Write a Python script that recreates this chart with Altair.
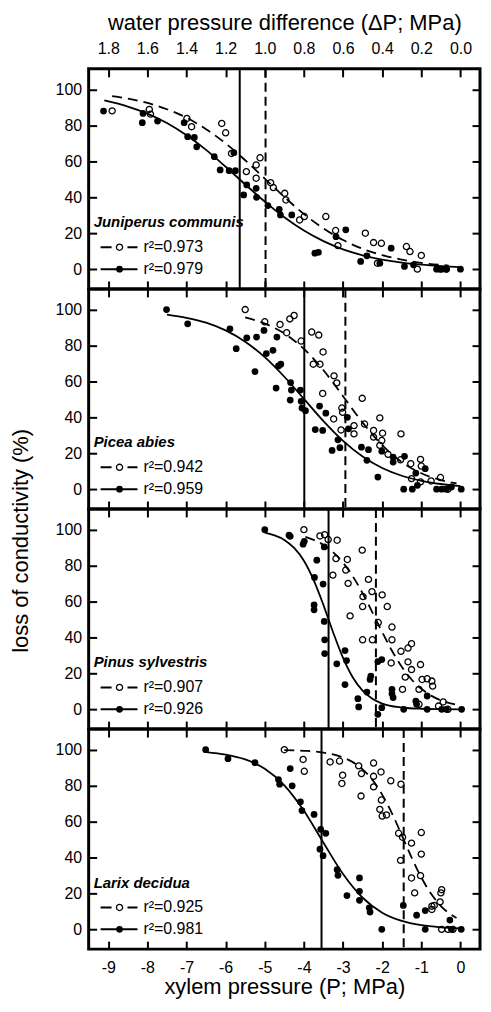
import altair as alt
import pandas as pd

FONT = "Liberation Sans"

species = ["Juniperus communis", "Picea abies", "Pinus sylvestris", "Larix decidua"]
r2_open = [0.973, 0.942, 0.907, 0.925]
r2_filled = [0.979, 0.959, 0.926, 0.981]
p50_open = [-4.98, -2.94, -2.16, -1.45]
p50_filled = [-5.64, -3.99, -3.37, -3.55]

x_ticks = [-9, -8, -7, -6, -5, -4, -3, -2, -1, 0]
x_tick_labels = ["-9", "-8", "-7", "-6", "-5", "-4", "-3", "-2", "-1", "0"]
dp_tick_labels = ["1.8", "1.6", "1.4", "1.2", "1.0", "0.8", "0.6", "0.4", "0.2", "0.0"]
y_ticks = [0, 20, 40, 60, 80, 100]

# ---- Juniperus communis
juni_filled_x = [-9.12, -8.13, -8.11, -7.74, -7.06, -6.97, -6.80, -6.74, -6.29, -6.14, -5.91, -5.75, -5.79, -5.54, -5.46,
                 -5.22, -5.21, -4.92, -4.63, -4.60, -4.31, -3.72, -3.63, -3.18, -2.93, -2.55, -2.39, -2.06, -1.77, -1.43,
                 -1.20, -0.61, -0.48, -0.36, 0.0]
juni_filled_y = [88, 81.5, 86.7, 82.4, 81.5, 73.7, 73.3, 68.1, 62.6, 55.2, 54.8, 54.8, 64.8, 41.3, 46.9,
                 45, 40, 35.4, 33.3, 30.2, 30.2, 8.9, 9.3, 18.1, 21.9, 4.3, 7.4, 3.3, 11.7, 1.5,
                 2.4, 0, 0, 0, 0]
juni_open_x = [-8.90, -7.95, -7.92, -6.99, -6.87, -6.10, -6.00, -5.85, -5.47, -5.22, -5.22, -5.12, -4.85, -4.78, -4.49,
               -4.46, -4.11, -3.99, -3.44, -3.19, -3.13, -2.43, -2.22, -2.12, -2.02, -1.38, -1.29, -1.10, -1.00, -0.52,
               -0.36]
juni_open_y = [88.1, 88.9, 86.3, 83.9, 79.3, 81.1, 75.9, 64.4, 54.3, 58, 50.6, 62, 48.1, 45.4, 42.2,
               38.5, 27.4, 29.3, 29.3, 21.5, 13.1, 20, 14.8, 3.3, 14.4, 12.6, 9.8, 0, 7.6, 0,
               0]
juni_fit_filled_x = [-9.1, -8.5, -8, -7.5, -7, -6.5, -6, -5.5, -5, -4.5, -4, -3.5, -3, -2.5, -2, -1.5, -1, -0.5, 0]
juni_fit_filled_y = [93.9, 90.5, 86.6, 81.3, 74.5, 66.4, 57.0, 47.2, 37.6, 28.9, 21.5, 15.6, 11.0, 7.7, 5.3, 3.6, 2.5, 1.7, 1.1]
juni_fit_open_x = [-8.9, -8.5, -8, -7.5, -7, -6.5, -6, -5.5, -5, -4.5, -4, -3.5, -3, -2.5, -2, -1.5, -1, -0.3]
juni_fit_open_y = [96.3, 94.9, 92.5, 89.0, 84.3, 77.9, 70.0, 60.6, 50.4, 40.2, 30.7, 22.7, 16.2, 11.3, 7.8, 5.3, 3.5, 2.0]

# ---- Picea abies
picea_filled_x = [-7.51, -6.97, -5.89, -5.73, -5.46, -5.25, -5.21, -5.02, -4.96, -4.79, -4.71, -4.69, -4.65, -4.59, -4.34,
                  -4.32, -4.35, -4.09, -4.07, -4.05, -3.96, -3.71, -3.60, -3.52, -3.44, -3.28, -3.13, -3.08, -2.89, -2.86,
                  -2.53, -2.39, -2.35, -2.11, -2.01, -1.72, -1.72, -1.45, -1.43, -1.23, -1.14, -1.10, -0.90, -0.61, -0.48,
                  -0.36, -0.23, 0.02]
picea_filled_y = [100, 92.1, 89.3, 78.2, 84.3, 65.5, 84.7, 88.4, 75.5, 77.3, 56.3, 84.7, 68.6, 69.6, 59.4,
                  55.2, 49.6, 55.2, 48.9, 45.2, 43.7, 33.2, 46.3, 32.7, 42.3, 21.6, 27.5, 23.1, 40, 33.6,
                  23.4, 16.1, 22, 6.8, 21.2, 15.1, 17.9, 0, 18.3, 0, 9, 2.2, 11.4, 0, 0,
                  0, 1.3, 0]
picea_open_x = [-5.50, -5.0, -4.61, -4.44, -4.36, -4.25, -4.07, -3.80, -3.62, -3.76, -3.59, -3.51, -3.52, -3.23, -3.16,
                -3.24, -3.03, -3.05, -3.01, -2.72, -2.72, -2.51, -2.45, -2.22, -2.22, -2.06, -1.99, -2.01, -2.06, -1.85,
                -1.52, -1.53, -1.27, -1.25, -1.02, -1.0, -1.02, -0.75, -0.51, -0.32]
picea_open_y = [100, 93.2, 91.7, 87.1, 94.8, 96.7, 82.5, 87.5, 85.8, 69.6, 69.6, 76.4, 53.3, 63.1, 59.2,
                39.1, 45.2, 33, 42.8, 35.4, 30.8, 50.6, 36.3, 32.7, 29, 39.7, 31.2, 27.1, 24.4, 19.4,
                30.8, 16.4, 14.2, 5.9, 16.6, 12.9, 4.1, 4.6, 6.5, 0]
picea_fit_filled_x = [-7.5, -7, -6.5, -6, -5.5, -5, -4.5, -4, -3.5, -3, -2.5, -2, -1.5, -1, -0.5, 0]
picea_fit_filled_y = [97.2, 95.4, 92.7, 88.4, 82.1, 73.5, 62.6, 50.3, 37.9, 26.9, 18.2, 11.8, 7.5, 4.7, 2.9, 1.7]
picea_fit_open_x = [-5.5, -5, -4.5, -4, -3.5, -3, -2.5, -2, -1.5, -1, -0.5, -0.1]
picea_fit_open_y = [95.6, 92.2, 86.7, 78.1, 66.2, 51.8, 37.1, 24.5, 15.1, 8.9, 5.1, 3.2]

# ---- Pinus sylvestris
pinus_filled_x = [-5.0, -4.38, -4.35, -4.02, -3.99, -3.67, -3.73, -3.51, -3.48, -3.74, -3.74, -3.48, -3.47, -3.47, -3.16,
                  -2.95, -2.91, -2.95, -2.62, -2.60, -2.39, -2.31, -2.29, -2.11, -2.01, -2.11, -2.01, -1.75, -1.75, -1.72,
                  -1.45, -1.14, -1.12, -0.85, -0.85, -0.48, -0.36, 0.03]
pinus_filled_y = [100, 96.9, 96.3, 91.9, 93.5, 83, 73.4, 69.7, 90.4, 58.1, 55.4, 48.9, 38.7, 31, 25.3,
                  32.7, 27.1, 13.8, 5.9, 1.3, 9.6, 16.6, 18.5, 26.6, 27.7, -2.8, 0.9, 11.1, 8.7, 6.5,
                  0, 4.6, 2.8, 7.4, 0, 0, 0, 0]
pinus_open_x = [-4.0, -3.59, -3.47, -3.38, -3.15, -3.26, -3.18, -2.89, -2.93, -2.87, -2.82, -2.51, -2.50, -2.49, -2.50,
                -2.35, -2.26, -2.25, -2.10, -2.0, -1.87, -1.75, -1.75, -1.77, -1.52, -1.34, -1.25, -1.34, -1.25, -1.41,
                -1.48, -1.02, -1.06, -0.98, -0.85, -0.73, -0.71, -1.06, -0.56, -0.44, -0.32]
pinus_open_y = [100, 96.5, 97.2, 94.5, 94.1, 74.7, 83.9, 83.4, 77.5, 70.1, 52, 88.6, 57.2, 62.7, 38.7,
                72.3, 65.5, 38.7, 48.3, 63.7, 57.2, 45.8, 38.7, 25.8, 32.3, 34.1, 36.5, 26.4, 22.1, 17.9,
                11.1, 24.9, 11.1, 16.6, 17, 15.7, 12.9, 2.8, 1.8, 4.1, 0]
pinus_fit_filled_x = [-5, -4.75, -4.5, -4.25, -4, -3.75, -3.5, -3.25, -3, -2.75, -2.5, -2.25, -2, -1.5, -1, -0.5, 0]
pinus_fit_filled_y = [98.3, 96.8, 94.3, 89.8, 82.7, 71.9, 58.0, 42.6, 28.6, 17.7, 10.4, 5.9, 3.2, 1.0, 0.3, 0.1, 0.0]
pinus_fit_open_x = [-3.96, -3.75, -3.5, -3.25, -3, -2.75, -2.5, -2.25, -2, -1.75, -1.5, -1.25, -1, -0.75, -0.5, -0.1]
pinus_fit_open_y = [96.0, 94.3, 91.5, 87.3, 81.6, 74.0, 64.6, 54.0, 43.0, 32.6, 23.7, 16.6, 11.4, 7.6, 5.0, 2.5]

# ---- Larix decidua
larix_filled_x = [-6.51, -5.94, -5.25, -4.65, -4.62, -4.35, -4.30, -4.09, -4.05, -3.74, -3.59, -3.57, -3.51, -3.44, -3.15,
                  -3.13, -2.90, -2.58, -2.58, -2.58, -2.33, -2.31, -2.01, -1.46, -1.12, -0.90, -0.90, -0.27, -0.23, 0.02]
larix_filled_y = [100, 95, 92.8, 83.4, 80.8, 89.5, 79.9, 71, 66.1, 64, 44.6, 55.7, 41, 53.5, 33.2,
                  30.1, 18.8, 28.6, 21.2, 16.2, 12, 9.6, 0, 13.3, 7.9, 0, 10.5, 5.2, 0, 0]
larix_open_x = [-4.50, -4.02, -3.99, -3.33, -3.09, -3.01, -3.03, -2.60, -2.53, -2.54, -2.22, -2.22, -2.22, -2.03, -2.02,
                -2.06, -2.0, -1.89, -1.78, -1.52, -1.58, -1.53, -1.48, -1.25, -1.25, -1.17, -1.0, -1.0, -1.02, -0.73,
                -0.67, -0.73, -0.48, -0.50, -0.52, -0.48, -0.32, -0.19]
larix_open_y = [100, 94.6, 88, 93.2, 93.7, 85.8, 81.2, 91, 86.7, 74.2, 92.6, 85.2, 79.3, 87.6, 72,
                66.8, 63.1, 63.7, 82.7, 80.8, 53.5, 38.4, 51.3, 48, 28.6, 20.3, 53.9, 41.9, 29.9, 12.9,
                13.3, 11.1, 22.1, 20.3, 15.3, 0, 0, 0]
larix_fit_filled_x = [-6.5, -6, -5.5, -5, -4.5, -4, -3.5, -3, -2.5, -2, -1.5, -1, -0.5, 0]
larix_fit_filled_y = [98.7, 97.3, 94.6, 89.4, 80.2, 66.0, 48.2, 30.8, 17.6, 9.3, 4.7, 2.3, 1.1, 0.5]
larix_fit_open_x = [-4.5, -4, -3.5, -3, -2.75, -2.5, -2.25, -2, -1.75, -1.5, -1.25, -1, -0.75, -0.5, -0.25, -0.1]
larix_fit_open_y = [99.8, 99.4, 98.4, 95.7, 93.1, 89.1, 83.2, 75.0, 64.6, 52.5, 40.1, 28.9, 19.8, 13.0, 8.3, 6.3]

panels = [
    (juni_filled_x, juni_filled_y, juni_open_x, juni_open_y, juni_fit_filled_x, juni_fit_filled_y, juni_fit_open_x, juni_fit_open_y),
    (picea_filled_x, picea_filled_y, picea_open_x, picea_open_y, picea_fit_filled_x, picea_fit_filled_y, picea_fit_open_x, picea_fit_open_y),
    (pinus_filled_x, pinus_filled_y, pinus_open_x, pinus_open_y, pinus_fit_filled_x, pinus_fit_filled_y, pinus_fit_open_x, pinus_fit_open_y),
    (larix_filled_x, larix_filled_y, larix_open_x, larix_open_y, larix_fit_filled_x, larix_fit_filled_y, larix_fit_open_x, larix_fit_open_y),
]

W, H = 393, 221
XDOM = [-9.5, 0.5]
YDOM = [-11, 111.5]
Y0PX = H * (YDOM[1] - 0) / (YDOM[1] - YDOM[0])
TICK = 8


def arr_expr(labels):
    return "[" + ",".join("'" + s + "'" for s in labels) + "][round(datum.value) + 9]"


def xs():
    return alt.Scale(domain=XDOM, nice=False, zero=False)


def ys():
    return alt.Scale(domain=YDOM, nice=False, zero=False)


def make_panel(i):
    fx, fy, ox, oy, cfx, cfy, cox, coy = panels[i]
    first = i == 0
    last = i == len(panels) - 1
    df_f = pd.DataFrame({"x": fx, "y": fy})
    df_o = pd.DataFrame({"x": ox, "y": oy})
    df_cf = pd.DataFrame({"x": cfx, "y": cfy})
    df_co = pd.DataFrame({"x": cox, "y": coy})
    df_pf = pd.DataFrame({"p": [p50_filled[i]]})
    df_po = pd.DataFrame({"p": [p50_open[i]]})

    common = dict(offset=-TICK, tickSize=TICK, domain=False, grid=False, ticks=True)
    bottom_axis = alt.Axis(orient="bottom", values=x_ticks, labels=last, title="xylem pressure (P; MPa)" if last else None,
                           labelExpr=arr_expr(x_tick_labels), labelPadding=10, titlePadding=2, **common)
    top_axis = alt.Axis(orient="top", values=x_ticks, labels=first,
                        title="water pressure difference (\u0394P; MPa)" if first else None,
                        labelExpr=arr_expr(dp_tick_labels), labelPadding=12, titlePadding=6, **common)
    left_axis = alt.Axis(orient="left", values=y_ticks, labels=True, title=None, labelPadding=7, **common)
    right_axis = alt.Axis(orient="right", values=y_ticks, labels=False, title=None, **common)

    fit_open = alt.Chart(df_co).mark_line(color="black", strokeWidth=1.8, strokeDash=[10, 6], interpolate="monotone").encode(
        x=alt.X("x:Q", scale=xs(), axis=None), y=alt.Y("y:Q", scale=ys(), axis=None))
    fit_filled = alt.Chart(df_cf).mark_line(color="black", strokeWidth=1.8, interpolate="monotone").encode(
        x=alt.X("x:Q", scale=xs(), axis=None), y=alt.Y("y:Q", scale=ys(), axis=None))
    rule_open = alt.Chart(df_po).mark_rule(color="black", strokeWidth=2, strokeDash=[9, 5]).encode(
        x=alt.X("p:Q", scale=xs(), axis=None))
    rule_filled = alt.Chart(df_pf).mark_rule(color="black", strokeWidth=2).encode(
        x=alt.X("p:Q", scale=xs(), axis=None))
    pts_open = alt.Chart(df_o).mark_point(shape="circle", filled=False, color="black", size=38, strokeWidth=1.3, opacity=1).encode(
        x=alt.X("x:Q", scale=xs(), axis=top_axis), y=alt.Y("y:Q", scale=ys(), axis=right_axis))
    pts_filled = alt.Chart(df_f).mark_circle(color="black", size=46, opacity=1).encode(
        x=alt.X("x:Q", scale=xs(), axis=bottom_axis), y=alt.Y("y:Q", scale=ys(), axis=left_axis))

    row1 = Y0PX - 22
    row2 = Y0PX
    one = pd.DataFrame({"s": [species[i]], "ro": ["r\u00b2=%.3f" % r2_open[i]], "rf": ["r\u00b2=%.3f" % r2_filled[i]]})
    lg_name = alt.Chart(one).mark_text(align="left", baseline="middle", fontSize=15, fontWeight="bold", fontStyle="italic",
                                       font=FONT, color="black").encode(x=alt.value(5), y=alt.value(Y0PX - 47), text="s:N")
    lg_line_o = alt.Chart(one).mark_rule(color="black", strokeWidth=2, strokeDash=[11, 16]).encode(
        x=alt.value(12), x2=alt.value(49), y=alt.value(row1))
    lg_pt_o = alt.Chart(one).mark_point(shape="circle", filled=False, color="black", size=38, strokeWidth=1.3, opacity=1).encode(
        x=alt.value(31), y=alt.value(row1))
    lg_txt_o = alt.Chart(one).mark_text(align="left", baseline="middle", fontSize=16, font=FONT, color="black").encode(
        x=alt.value(55), y=alt.value(row1), text="ro:N")
    lg_line_f = alt.Chart(one).mark_rule(color="black", strokeWidth=2).encode(
        x=alt.value(12), x2=alt.value(49), y=alt.value(row2))
    lg_pt_f = alt.Chart(one).mark_circle(color="black", size=46, opacity=1).encode(
        x=alt.value(31), y=alt.value(row2))
    lg_txt_f = alt.Chart(one).mark_text(align="left", baseline="middle", fontSize=16, font=FONT, color="black").encode(
        x=alt.value(55), y=alt.value(row2), text="rf:N")

    layers = [fit_open, fit_filled, rule_open, rule_filled, pts_open, pts_filled,
              lg_name, lg_line_o, lg_pt_o, lg_txt_o, lg_line_f, lg_pt_f, lg_txt_f]
    if i == 2:
        ytitle = alt.Chart(pd.DataFrame({"t": ["loss of conductivity (%)"]})).mark_text(
            angle=270, align="center", baseline="middle", fontSize=22, font=FONT, color="black").encode(
            x=alt.value(-68), y=alt.value(32), text="t:N")
        layers.append(ytitle)
    return alt.layer(*layers).resolve_axis(x="independent", y="independent").properties(width=W, height=H)


chart = alt.vconcat(*[make_panel(i) for i in range(4)], spacing=0, bounds="flush").properties(
    padding={"left": 0, "top": 0, "right": 0, "bottom": 0}
).configure_view(stroke="black", strokeWidth=3).configure_axis(
    tickColor="black", tickWidth=2,
    labelFont=FONT, titleFont=FONT, labelColor="black", titleColor="black",
    labelFontSize=16, titleFontSize=22, titleFontWeight="normal"
)

chart.save("out.html", embed_options={"renderer": "svg", "actions": False})
